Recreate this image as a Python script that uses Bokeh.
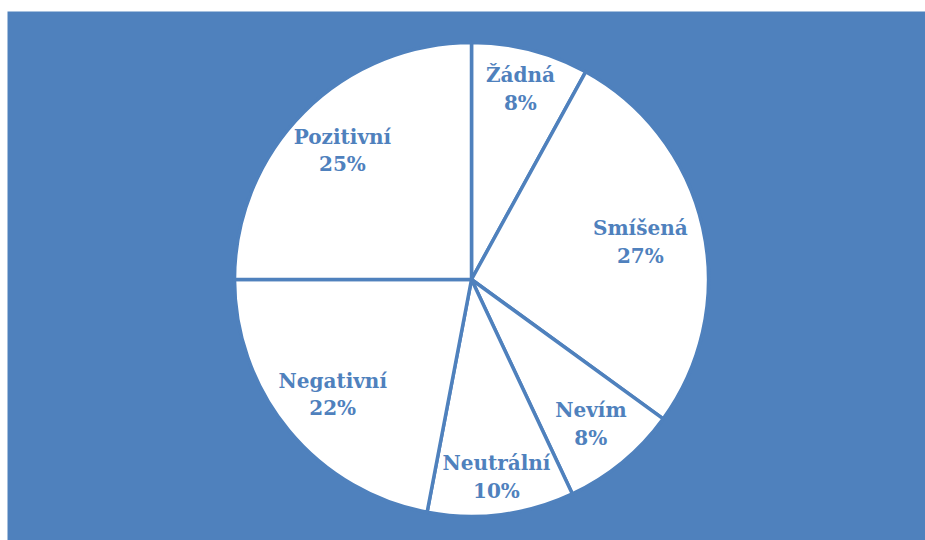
import math
from bokeh.plotting import figure
from bokeh.models import ColumnDataSource, Range1d
from bokeh.core.properties import value
from bokeh.embed import file_html
from bokeh.resources import INLINE

categories = ["Žádná", "Smíšená", "Nevím", "Neutrální", "Negativní", "Pozitivní"]
percents = [8, 27, 8, 10, 22, 25]
label_r = [0.83, 0.73, 0.79, 0.84, 0.76, 0.77]

BLUE = "#4F81BD"
LEFT, TOP = 7, 11
W, H = 918, 529
cx, cy, R = 464, 261, 237

starts, ends, lx, ly, texts = [], [], [], [], []
cum = 0.0
total = sum(percents)
for cat, pct, lr in zip(categories, percents, label_r):
    a0 = math.pi / 2 - 2 * math.pi * cum / total
    a1 = math.pi / 2 - 2 * math.pi * (cum + pct) / total
    mid = (a0 + a1) / 2
    starts.append(a0)
    ends.append(a1)
    lx.append(cx + lr * R * math.cos(mid))
    ly.append(cy + lr * R * math.sin(mid))
    texts.append(f"{cat}\n{pct}%")
    cum += pct

src = ColumnDataSource(dict(start=starts, end=ends, lx=lx, ly=ly, text=texts))

p = figure(width=W + LEFT, height=H + TOP, output_backend="svg", toolbar_location=None,
           x_range=Range1d(0, W), y_range=Range1d(0, H),
           min_border_left=LEFT, min_border_right=0, min_border_bottom=0, min_border_top=TOP)
p.axis.visible = False
p.grid.visible = False
p.outline_line_color = None
p.background_fill_color = BLUE
p.border_fill_color = "white"

p.wedge(x=cx, y=cy, radius=R, start_angle="start", end_angle="end", direction="clock",
        fill_color="white", line_color=BLUE, line_width=3.5, source=src)
p.text(x="lx", y="ly", text="text", source=src, text_align="center", text_baseline="middle",
       text_color=BLUE, text_font=value("DejaVu Serif"), text_font_style="bold",
       text_font_size="20px", text_line_height=1.15)

open("out.html", "w").write(file_html(p, INLINE))
